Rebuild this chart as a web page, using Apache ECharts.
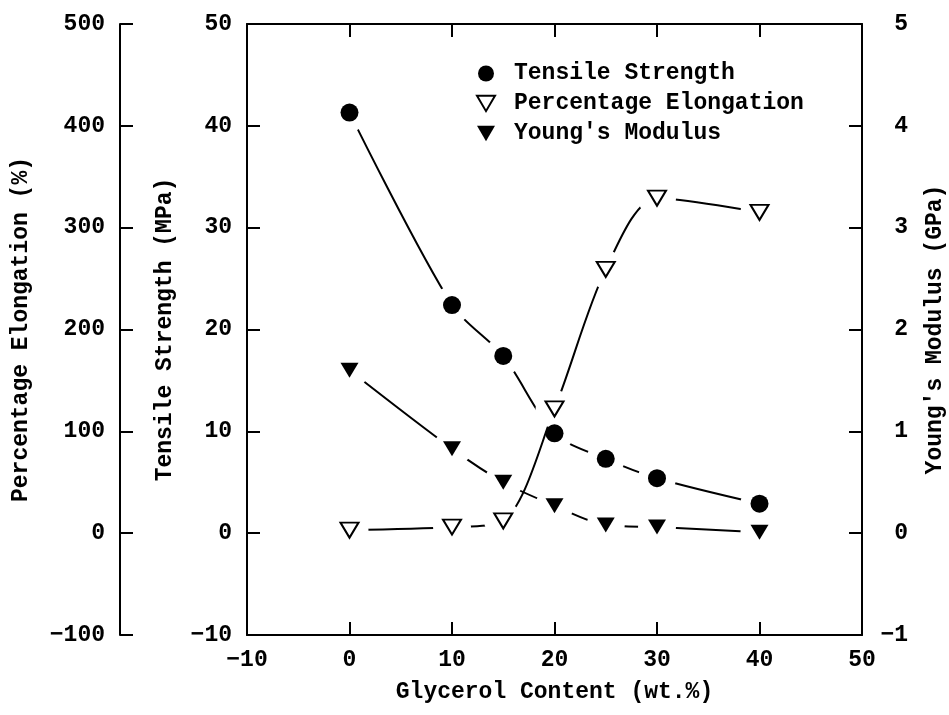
<!DOCTYPE html>
<html>
<head>
<meta charset="utf-8">
<script src="https://cdn.jsdelivr.net/npm/echarts@6/dist/echarts.min.js"></script>
<style>html,body{margin:0;padding:0;background:#fff}#c{width:949px;height:715px}</style>
</head>
<body>
<div id="c"></div>
<script>
const glycerol = [0, 10, 15, 20, 25, 30, 40];
const tensile = [41.3, 22.4, 17.4, 9.8, 7.3, 5.4, 2.9];
const elongation = [3, 6, 12, 122, 259, 329, 315];
const modulus = [1.6, 0.83, 0.5, 0.27, 0.08, 0.06, 0.01];
const seriesNames = ['Tensile Strength', 'Percentage Elongation', "Young's Modulus"];
const axisNames = ['Glycerol Content (wt.%)', 'Tensile Strength (MPa)', 'Percentage Elongation (%)', "Young's Modulus (GPa)"];

const FONT = 'Liberation Mono';
const FS = 23;
const txt = {color: '#000', fontFamily: FONT, fontWeight: 'bold', fontSize: FS};
const fmt = v => (v < 0 ? '\u2212' + Math.abs(v) : String(v));
const pts = arr => glycerol.map((x, i) => [x, arr[i]]);
const tri = 'path://M0,0L20,0L10,17Z';
const axLine = {show: true, onZero: false, lineStyle: {color: '#000', width: 2}};
const axTick = {show: true, inside: true, length: 13, lineStyle: {color: '#000', width: 2}};

function yAx(o) {
  return Object.assign({
    type: 'value',
    axisLine: axLine,
    axisTick: axTick,
    splitLine: {show: false},
    nameLocation: 'middle',
    nameRotate: 90,
    nameTextStyle: txt,
    axisLabel: Object.assign({formatter: fmt, margin: 15}, txt)
  }, o);
}

const lineCommon = {type: 'line', symbol: 'none', smooth: 0.3, lineStyle: {color: '#000', width: 2, opacity: 1}, silent: true};
const haloCommon = {type: 'scatter', symbol: 'circle', symbolSize: 38, itemStyle: {color: '#fff', opacity: 1}, silent: true};

const option = {
  animation: false,
  backgroundColor: '#fff',
  grid: {left: 247, right: 87, top: 24, bottom: 80, containLabel: false, outerBoundsMode: 'none'},
  legend: {
    data: seriesNames,
    orient: 'vertical',
    left: 471, top: 57,
    itemWidth: 18, itemHeight: 16, itemGap: 7,
    textStyle: Object.assign({padding: [0, 0, 0, 14]}, txt)
  },
  xAxis: [{
    type: 'value', min: -10, max: 50, interval: 10, position: 'bottom',
    name: axisNames[0], nameLocation: 'middle', nameGap: 46, nameTextStyle: txt,
    axisLine: axLine, axisTick: axTick,
    splitLine: {show: false},
    axisLabel: Object.assign({formatter: fmt, margin: 14}, txt)
  }, {
    type: 'value', min: -10, max: 50, interval: 10, position: 'top',
    axisLine: axLine, axisTick: axTick,
    splitLine: {show: false},
    axisLabel: {show: false}
  }],
  yAxis: [
    yAx({min: -10, max: 50, interval: 10, position: 'left', name: axisNames[1], nameGap: 70}),
    yAx({min: -100, max: 500, interval: 100, position: 'left', offset: 127, name: axisNames[2], nameGap: 87}),
    yAx({min: -1, max: 5, interval: 1, position: 'right', name: axisNames[3], nameGap: 62,
         axisLabel: Object.assign({formatter: fmt, margin: 46, align: 'right'}, txt)})
  ],
  series: [
    Object.assign({name: 'l1', data: pts(tensile), yAxisIndex: 0, z: 1}, lineCommon),
    Object.assign({name: 'h1', data: pts(tensile), yAxisIndex: 0, z: 2}, haloCommon),
    Object.assign({name: 'l2', data: pts(elongation), yAxisIndex: 1, z: 3}, lineCommon),
    Object.assign({name: 'h2', data: pts(elongation), yAxisIndex: 1, z: 4}, haloCommon),
    Object.assign({name: 'l3', data: pts(modulus), yAxisIndex: 2, z: 5}, lineCommon),
    Object.assign({name: 'h3', data: pts(modulus), yAxisIndex: 2, z: 6}, haloCommon),
    {name: seriesNames[0], type: 'scatter', yAxisIndex: 0, z: 10, data: pts(tensile),
     symbol: 'circle', symbolSize: 18, itemStyle: {color: '#000', opacity: 1}},
    {name: seriesNames[1], type: 'scatter', yAxisIndex: 1, z: 10, data: pts(elongation),
     symbol: tri, symbolSize: [18, 15], itemStyle: {color: '#fff', borderColor: '#000', borderWidth: 2, opacity: 1}},
    {name: seriesNames[2], type: 'scatter', yAxisIndex: 2, z: 10, data: pts(modulus),
     symbol: tri, symbolSize: [18, 15], itemStyle: {color: '#000', opacity: 1}}
  ]
};
echarts.init(document.getElementById('c')).setOption(option);
</script>
</body>
</html>
